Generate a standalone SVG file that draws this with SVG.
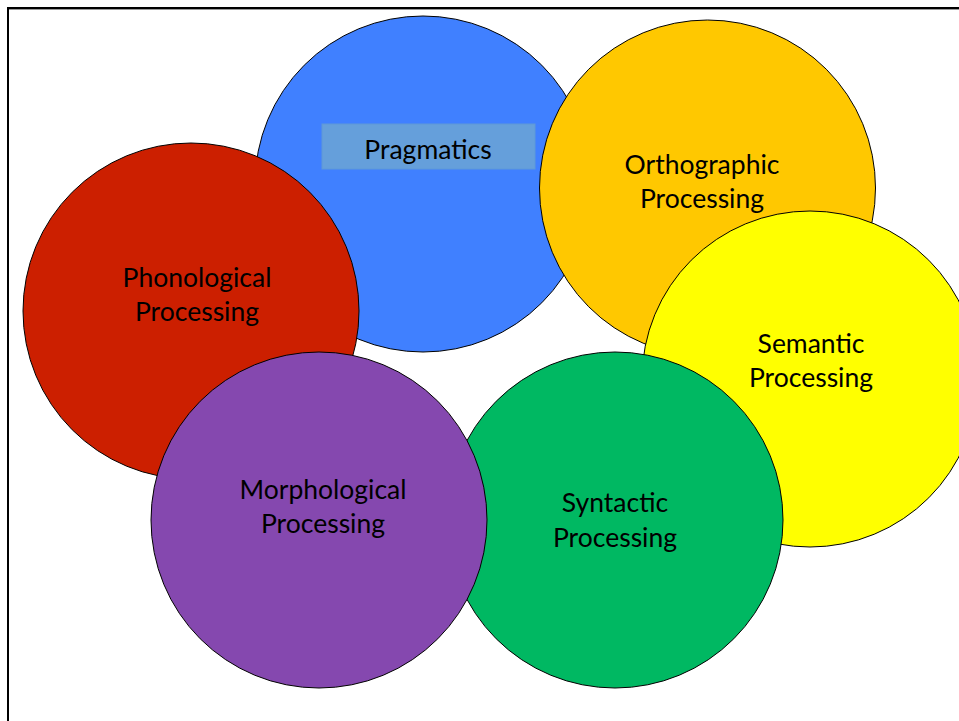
<svg xmlns="http://www.w3.org/2000/svg" width="959" height="721" viewBox="0 0 959 721">
<style>
.c{stroke:#000;stroke-width:1}
.t{font-family:Lato,"Liberation Sans",sans-serif;font-size:26.5px;fill:#000;text-anchor:middle}
</style>
<rect width="959" height="721" fill="#fff"/>
<g id="frame">
<line x1="8" y1="8" x2="959" y2="8" stroke="#000" stroke-width="2"/>
<line x1="8" y1="9.5" x2="959" y2="9.5" stroke="#999" stroke-width="1"/>
<line x1="8" y1="7" x2="8" y2="721" stroke="#000" stroke-width="2"/>
</g>
<g id="pragmatics">
<circle class="c" cx="423" cy="184" r="168" fill="#4080FF"/>
<rect x="322" y="124" width="213" height="45" fill="#659FDB" stroke="#5F98D8" stroke-width="1"/>
<text class="t" x="428" y="159">Pragmatics</text>
</g>
<g id="phonological">
<circle class="c" cx="191" cy="311" r="168" fill="#CC1F00"/>
<text class="t" x="197" y="287">Phonological</text>
<text class="t" x="197" y="321">Processing</text>
</g>
<g id="orthographic">
<circle class="c" cx="707.5" cy="188" r="168" fill="#FFC800"/>
<text class="t" x="702" y="174">Orthographic</text>
<text class="t" x="702" y="208">Processing</text>
</g>
<g id="semantic">
<circle class="c" cx="810" cy="379" r="168" fill="#FFFF00"/>
<text class="t" x="811" y="353">Semantic</text>
<text class="t" x="811" y="387">Processing</text>
</g>
<g id="syntactic">
<circle class="c" cx="615" cy="520" r="168" fill="#00B862"/>
<text class="t" x="615" y="512">Syntactic</text>
<text class="t" x="615" y="547">Processing</text>
</g>
<g id="morphological">
<circle class="c" cx="319" cy="520" r="168" fill="#8548AF"/>
<text class="t" x="323" y="499">Morphological</text>
<text class="t" x="323" y="533">Processing</text>
</g>
<g id="connectors"></g>
</svg>
